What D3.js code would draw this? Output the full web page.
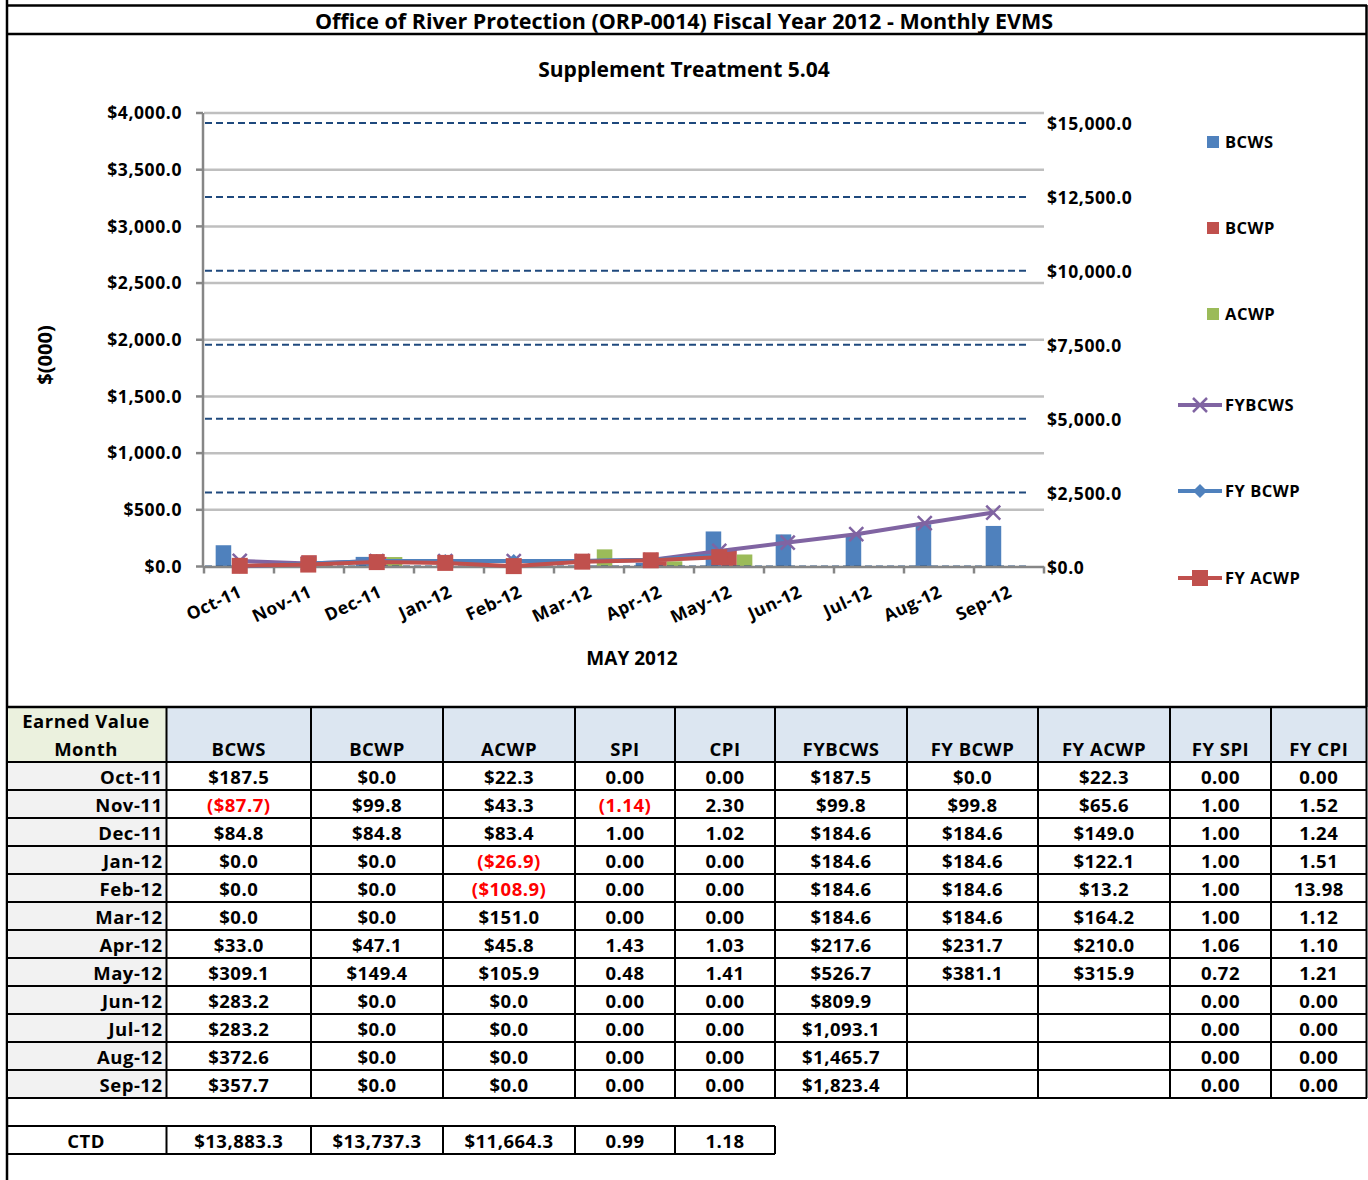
<!DOCTYPE html>
<html>
<head>
<meta charset="utf-8">
<script src="https://cdn.jsdelivr.net/npm/d3@7"></script>
<style>
  body { margin: 0; background: #fff; }
  svg { display: block; font-family: "Open Sans", Lato, sans-serif; font-weight: bold; }
</style>
</head>
<body>
<svg id="chart" width="1368" height="1180"></svg>
<script>
// ---- data ----
const months = ["Oct-11", "Nov-11", "Dec-11", "Jan-12", "Feb-12", "Mar-12", "Apr-12", "May-12", "Jun-12", "Jul-12", "Aug-12", "Sep-12"];
const bcws = [187.5, -87.7, 84.8, 0.0, 0.0, 0.0, 33.0, 309.1, 283.2, 283.2, 372.6, 357.7];
const bcwp = [0.0, 99.8, 84.8, 0.0, 0.0, 0.0, 47.1, 149.4, 0.0, 0.0, 0.0, 0.0];
const acwp = [22.3, 43.3, 83.4, -26.9, -108.9, 151.0, 45.8, 105.9, 0.0, 0.0, 0.0, 0.0];
const spi = [0.00, -1.14, 1.00, 0.00, 0.00, 0.00, 1.43, 0.48, 0.00, 0.00, 0.00, 0.00];
const cpi = [0.00, 2.30, 1.02, 0.00, 0.00, 0.00, 1.03, 1.41, 0.00, 0.00, 0.00, 0.00];
const fybcws = [187.5, 99.8, 184.6, 184.6, 184.6, 184.6, 217.6, 526.7, 809.9, 1093.1, 1465.7, 1823.4];
const fybcwp = [0.0, 99.8, 184.6, 184.6, 184.6, 184.6, 231.7, 381.1, null, null, null, null];
const fyacwp = [22.3, 65.6, 149.0, 122.1, 13.2, 164.2, 210.0, 315.9, null, null, null, null];
const fyspi = [0.00, 1.00, 1.00, 1.00, 1.00, 1.00, 1.06, 0.72, 0.00, 0.00, 0.00, 0.00];
const fycpi = [0.00, 1.52, 1.24, 1.51, 13.98, 1.12, 1.10, 1.21, 0.00, 0.00, 0.00, 0.00];
const ctdLabel = "CTD";
const ctd = [13883.3, 13737.3, 11664.3, 0.99, 1.18];

const leftTicks = [0, 500, 1000, 1500, 2000, 2500, 3000, 3500, 4000];
const rightTicks = [0, 2500, 5000, 7500, 10000, 12500, 15000];

const TITLE = "Office of River Protection (ORP-0014) Fiscal Year 2012 - Monthly EVMS";
const SUBTITLE = "Supplement Treatment 5.04";
const X_TITLE = "MAY 2012";
const Y_TITLE = "$(000)";

const C_BLUE = "#4F81BD", C_RED = "#C0504D", C_GREEN = "#9BBB59", C_PURPLE = "#8064A2";
const C_NAVY = "#1F497D", C_GRID = "#BFBFBF", C_AXIS = "#868686";
const FS_AXIS = 17.5, FS_TABLE = 18.5, FS_LEGEND = 16.5;

const svg = d3.select("#chart");

// ---- frame ----
const frame = svg.append("g").attr("stroke", "#000").attr("stroke-width", 2.5);
frame.append("line").attr("x1", 7).attr("x2", 1367).attr("y1", 5.5).attr("y2", 5.5);
frame.append("line").attr("x1", 7).attr("x2", 1367).attr("y1", 34).attr("y2", 34);
frame.append("line").attr("x1", 7).attr("x2", 7).attr("y1", 0).attr("y2", 1180);
frame.append("line").attr("x1", 1366.5).attr("x2", 1366.5).attr("y1", 5).attr("y2", 707);

svg.append("text").attr("x", 684).attr("y", 29).attr("text-anchor", "middle")
  .attr("font-size", 21.5).text(TITLE);
svg.append("text").attr("x", 684).attr("y", 77).attr("text-anchor", "middle")
  .attr("font-size", 21).text(SUBTITLE);

// ---- scales ----
const y0 = 566.5;
const yL = d3.scaleLinear().domain([0, 4000]).range([y0, 113]);
const yR = d3.scaleLinear().domain([0, 15000]).range([y0, 123]);
const x = d3.scaleBand().domain(months).range([204, 1044]);
const xLine = d3.scaleBand().domain(months).range([205.5, 1027.5]);
const series = ["BCWS", "BCWP", "ACWP"];
const xs = d3.scaleBand().domain(series).range([0, x.bandwidth()]).paddingOuter(0.75);
const money = d3.format("$,.1f");

// gray gridlines (primary)
svg.append("g").selectAll("line").data(leftTicks.slice(1)).join("line")
  .attr("x1", 204).attr("x2", 1044)
  .attr("y1", d => yL(d)).attr("y2", d => yL(d))
  .attr("stroke", C_GRID).attr("stroke-width", 2.5);

// left axis
const la = svg.append("g");
la.append("line").attr("x1", 203).attr("x2", 203).attr("y1", yL(4000)).attr("y2", y0)
  .attr("stroke", C_AXIS).attr("stroke-width", 2.5);
la.selectAll(".tk").data(leftTicks).join("line")
  .attr("x1", 196).attr("x2", 203).attr("y1", d => yL(d)).attr("y2", d => yL(d))
  .attr("stroke", C_AXIS).attr("stroke-width", 2.5);
la.selectAll("text").data(leftTicks).join("text")
  .attr("x", 182).attr("y", d => yL(d)).attr("dy", "0.35em")
  .attr("text-anchor", "end").attr("font-size", FS_AXIS).attr("letter-spacing", 0.6)
  .text(d => money(d));

svg.append("text").attr("transform", "translate(52,355) rotate(-90)")
  .attr("text-anchor", "middle").attr("font-size", 20).text(Y_TITLE);

// bars (negative values clipped at the axis minimum)
const barData = [];
months.forEach((m, i) => {
  barData.push({ m, s: "BCWS", v: bcws[i], c: C_BLUE });
  barData.push({ m, s: "BCWP", v: bcwp[i], c: C_RED });
  barData.push({ m, s: "ACWP", v: acwp[i], c: C_GREEN });
});
svg.append("g").selectAll("rect").data(barData.filter(d => d.v > 0)).join("rect")
  .attr("x", d => x(d.m) + xs(d.s))
  .attr("width", xs.bandwidth())
  .attr("y", d => yL(d.v))
  .attr("height", d => y0 - yL(d.v))
  .attr("fill", d => d.c);

// dashed gridlines (secondary axis)
svg.append("g").selectAll("line").data(rightTicks).join("line")
  .attr("x1", 205).attr("x2", 1026)
  .attr("y1", d => yR(d)).attr("y2", d => yR(d))
  .attr("stroke", C_NAVY).attr("stroke-width", 2).attr("stroke-dasharray", "7,4");

svg.append("g").selectAll("text").data(rightTicks).join("text")
  .attr("x", 1047).attr("y", d => yR(d) + 1).attr("dy", "0.35em")
  .attr("font-size", FS_AXIS).attr("letter-spacing", 0.6).text(d => money(d));

// x axis
const xa = svg.append("g");
xa.append("line").attr("x1", 203).attr("x2", 1044).attr("y1", y0 + 0.5).attr("y2", y0 + 0.5)
  .attr("stroke", C_AXIS).attr("stroke-width", 2.5);
xa.selectAll(".tk").data(months.concat(["end"])).join("line")
  .attr("x1", (d, i) => 204 + i * x.step()).attr("x2", (d, i) => 204 + i * x.step())
  .attr("y1", y0).attr("y2", y0 + 7)
  .attr("stroke", C_AXIS).attr("stroke-width", 2.5);
xa.selectAll("text").data(months).join("text")
  .attr("transform", d => `translate(${x(d) + x.bandwidth() / 2 + 4},596) rotate(-25)`)
  .attr("text-anchor", "end").attr("font-size", 17.5).attr("letter-spacing", 0.4).text(d => d);

svg.append("text").attr("x", 632).attr("y", 665).attr("text-anchor", "middle")
  .attr("font-size", 19).text(X_TITLE);

// lines on secondary axis
const lx = m => xLine(m) + xLine.bandwidth() / 2;
const lineGen = d3.line().defined(d => d.v != null).x(d => lx(d.m)).y(d => yR(d.v));
const lineSeries = [
  { name: "FYBCWS", vals: fybcws, c: C_PURPLE, mk: "x" },
  { name: "FY BCWP", vals: fybcwp, c: C_BLUE, mk: "diamond" },
  { name: "FY ACWP", vals: fyacwp, c: C_RED, mk: "square" }
];

function drawMarker(g, type, cx, cy, c) {
  if (type === "x") {
    g.append("path").attr("d", `M${cx - 7},${cy - 7}L${cx + 7},${cy + 7}M${cx - 7},${cy + 7}L${cx + 7},${cy - 7}`)
      .attr("stroke", c).attr("stroke-width", 2.5).attr("fill", "none");
  } else if (type === "diamond") {
    g.append("path").attr("d", `M${cx},${cy - 7}L${cx + 7},${cy}L${cx},${cy + 7}L${cx - 7},${cy}Z`)
      .attr("fill", c);
  } else {
    g.append("rect").attr("x", cx - 8).attr("y", cy - 8).attr("width", 16).attr("height", 16)
      .attr("fill", c);
  }
}

lineSeries.forEach(s => {
  const pts = months.map((m, i) => ({ m, v: s.vals[i] }));
  const g = svg.append("g");
  g.append("path").datum(pts).attr("d", lineGen)
    .attr("fill", "none").attr("stroke", s.c).attr("stroke-width", 4).attr("stroke-linejoin", "round");
  pts.filter(p => p.v != null).forEach(p => drawMarker(g, s.mk, lx(p.m), yR(p.v), s.c));
});

// legend
const legBars = [{ n: "BCWS", c: C_BLUE, y: 142 }, { n: "BCWP", c: C_RED, y: 228 }, { n: "ACWP", c: C_GREEN, y: 314 }];
const leg = svg.append("g").attr("font-size", FS_LEGEND).attr("letter-spacing", 0.5);
legBars.forEach(d => {
  leg.append("rect").attr("x", 1207).attr("y", d.y - 6).attr("width", 12).attr("height", 12).attr("fill", d.c);
  leg.append("text").attr("x", 1225).attr("y", d.y).attr("dy", "0.35em").text(d.n);
});
const legLineY = [405, 491, 578];
lineSeries.forEach((s, i) => {
  const yy = legLineY[i];
  leg.append("line").attr("x1", 1178).attr("x2", 1222).attr("y1", yy).attr("y2", yy)
    .attr("stroke", s.c).attr("stroke-width", 4);
  drawMarker(leg, s.mk, 1200, yy, s.c);
  leg.append("text").attr("x", 1225).attr("y", yy).attr("dy", "0.35em").text(s.name);
});

// ---- table ----
const colEdges = [7, 166.5, 311, 443, 575, 675, 775, 907, 1038, 1170, 1271, 1366.5];
const headers = ["BCWS", "BCWP", "ACWP", "SPI", "CPI", "FYBCWS", "FY BCWP", "FY ACWP", "FY SPI", "FY CPI"];
const cols = [bcws, bcwp, acwp, spi, cpi, fybcws, fybcwp, fyacwp, fyspi, fycpi];
const isMoney = [true, true, true, false, false, true, true, true, false, false];
const headTop = 707, headBot = 762, rowH = 28;
const ctdTop = 1126;

const fmtMoney = v => v < 0 ? "(" + money(-v) + ")" : money(v);
const fmtIdx = v => v < 0 ? "(" + d3.format(".2f")(-v) + ")" : d3.format(".2f")(v);

const tb = svg.append("g").attr("letter-spacing", 0.5);
// header backgrounds
tb.append("rect").attr("x", colEdges[0]).attr("y", headTop).attr("width", colEdges[1] - colEdges[0])
  .attr("height", headBot - headTop).attr("fill", "#EBF1DE");
tb.append("rect").attr("x", colEdges[1]).attr("y", headTop).attr("width", colEdges[11] - colEdges[1])
  .attr("height", headBot - headTop).attr("fill", "#DCE6F1");
tb.append("rect").attr("x", colEdges[0]).attr("y", headBot).attr("width", colEdges[1] - colEdges[0])
  .attr("height", rowH * months.length).attr("fill", "#F2F2F2");

tb.append("text").attr("x", 86).attr("y", 728).attr("text-anchor", "middle").attr("font-size", FS_TABLE).text("Earned Value");
tb.append("text").attr("x", 86).attr("y", 756).attr("text-anchor", "middle").attr("font-size", FS_TABLE).text("Month");
headers.forEach((h, j) => {
  tb.append("text").attr("x", (colEdges[j + 1] + colEdges[j + 2]) / 2).attr("y", 756)
    .attr("text-anchor", "middle").attr("font-size", FS_TABLE).text(h);
});

months.forEach((m, i) => {
  const cy = headBot + rowH * i + rowH / 2 + 1.5;
  tb.append("text").attr("x", colEdges[1] - 4).attr("y", cy).attr("dy", "0.35em")
    .attr("text-anchor", "end").attr("font-size", FS_TABLE).text(m);
  cols.forEach((col, j) => {
    const v = col[i];
    if (v == null) return;
    tb.append("text").attr("x", (colEdges[j + 1] + colEdges[j + 2]) / 2).attr("y", cy).attr("dy", "0.35em")
      .attr("text-anchor", "middle").attr("font-size", FS_TABLE)
      .attr("fill", v < 0 ? "#FF0000" : "#000")
      .text(isMoney[j] ? fmtMoney(v) : fmtIdx(v));
  });
});

// grid lines
const gl = tb.append("g").attr("stroke", "#000").attr("stroke-width", 2);
const tableBot = headBot + rowH * months.length;
gl.append("line").attr("x1", 7).attr("x2", 1367).attr("y1", headTop).attr("y2", headTop).attr("stroke-width", 2.5);
for (let r = 0; r <= months.length; r++) {
  const yy = headBot + r * rowH;
  gl.append("line").attr("x1", 7).attr("x2", 1367).attr("y1", yy).attr("y2", yy);
}
colEdges.forEach(cx => {
  gl.append("line").attr("x1", cx).attr("x2", cx).attr("y1", headTop).attr("y2", tableBot);
});

// CTD row
const ctdBot = ctdTop + rowH;
tb.append("text").attr("x", 86).attr("y", ctdTop + rowH / 2 + 1.5).attr("dy", "0.35em")
  .attr("text-anchor", "middle").attr("font-size", FS_TABLE).text(ctdLabel);
ctd.forEach((v, j) => {
  tb.append("text").attr("x", (colEdges[j + 1] + colEdges[j + 2]) / 2).attr("y", ctdTop + rowH / 2 + 1.5).attr("dy", "0.35em")
    .attr("text-anchor", "middle").attr("font-size", FS_TABLE)
    .text(isMoney[j] ? fmtMoney(v) : fmtIdx(v));
});
gl.append("line").attr("x1", 7).attr("x2", colEdges[6]).attr("y1", ctdTop).attr("y2", ctdTop);
gl.append("line").attr("x1", 7).attr("x2", colEdges[6]).attr("y1", ctdBot).attr("y2", ctdBot);
colEdges.slice(1, 7).forEach(cx => {
  gl.append("line").attr("x1", cx).attr("x2", cx).attr("y1", ctdTop).attr("y2", ctdBot);
});
</script>
</body>
</html>
